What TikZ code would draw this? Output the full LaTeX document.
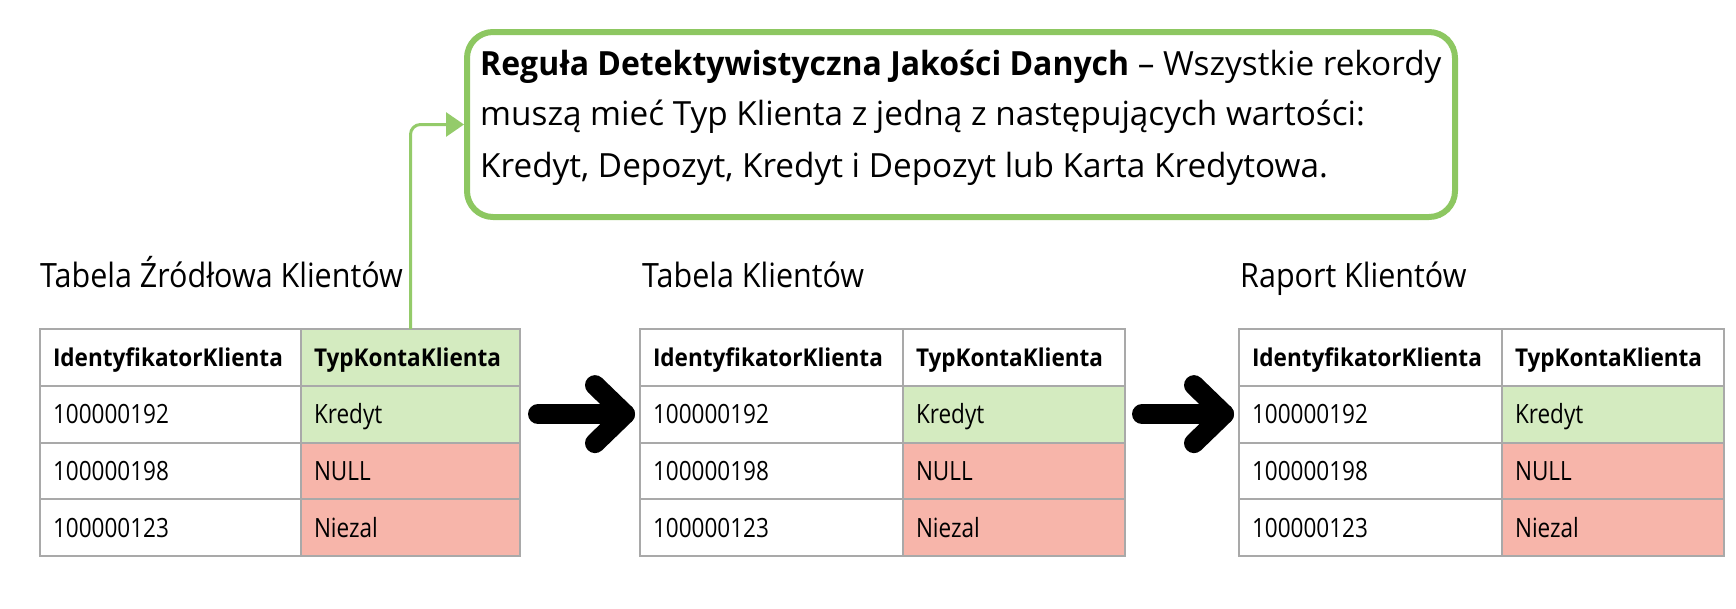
\documentclass[tikz,border=0pt]{standalone}
\usepackage{fontspec}
\setmainfont{Open Sans}
\newfontfamily\titlefont{Open Sans}[FakeStretch=0.91]
\newfontfamily\cellfont{Open Sans}[FakeStretch=0.85]
\newfontfamily\headfont{Open Sans}[FakeStretch=0.92]
\newfontfamily\rulebf{Open Sans}[FakeStretch=0.96]
\usetikzlibrary{arrows.meta,calc}
\definecolor{bordergray}{HTML}{A9A9A9}
\definecolor{cellgreen}{HTML}{D4EBC0}
\definecolor{cellred}{HTML}{F7B5AA}
\definecolor{rulegreen}{HTML}{8DC761}
\definecolor{linkgreen}{HTML}{94CB6A}
\tikzset{
  cell/.style={draw=bordergray, line width=2pt, inner xsep=13pt, inner ysep=0pt,
    outer sep=0pt, minimum height=56.75pt, anchor=north west, align=left,
    text height=19pt, text depth=0pt, font=\cellfont\fontsize{26.5}{30}\selectfont},
  headcell/.style={cell, text height=17.5pt, font=\headfont\fontsize{24.5}{28}\selectfont\bfseries},
  title/.style={anchor=base west, inner sep=0pt, font=\titlefont\fontsize{33.5}{40}\selectfont},
  ruleline/.style={anchor=base west, inner sep=0pt, font=\fontsize{33.3}{40}\selectfont},
  rulebox/.style={draw=rulegreen, line width=6pt, rounded corners=26pt, outer sep=0pt,
    anchor=north west, inner sep=0pt},
  link/.style={draw=linkgreen, line width=3pt, rounded corners=10pt,
    -{Triangle[length=18pt,width=24pt]}},
  bigarrow/.style={line width=20pt, line cap=round, line join=round, black}
}
\begin{document}
\begin{tikzpicture}[x=1pt,y=-1pt]
\useasboundingbox (0,0) rectangle (1736,608);

% rule box
\node[rulebox, minimum width=988pt, minimum height=185pt] (rule) at (467,32) {};
\node[ruleline] (rl1) at (480,75) {{\rulebf\bfseries Reguła Detektywistyczna Jakości Danych} – Wszystkie rekordy};
\node[ruleline] (rl2) at (480,125.5) {muszą mieć Typ Klienta z jedną z następujących wartości:};
\node[ruleline] (rl3) at (480,177.5) {Kredyt, Depozyt, Kredyt i Depozyt lub Karta Kredytowa.};

% titles
\node[title] (ti1) at (40,287) {Tabela Źródłowa Klientów};
\node[title] (ti2) at (642,287) {Tabela Klientów};
\node[title] (ti3) at (1240,287) {Raport Klientów};

% table 1
\node[headcell, text width=235pt] (A00) at (40,329) {IdentyfikatorKlienta};
\node[headcell, text width=193pt, fill=cellgreen] (A01) at (301,329) {TypKontaKlienta};
\node[cell, text width=235pt] (A10) at (40,385.75) {100000192};
\node[cell, text width=193pt, fill=cellgreen] (A11) at (301,385.75) {Kredyt};
\node[cell, text width=235pt] (A20) at (40,442.5) {100000198};
\node[cell, text width=193pt, fill=cellred] (A21) at (301,442.5) {NULL};
\node[cell, text width=235pt] (A30) at (40,499.25) {100000123};
\node[cell, text width=193pt, fill=cellred] (A31) at (301,499.25) {Niezal};

% table 2
\node[headcell, text width=237pt] (B00) at (640,329) {IdentyfikatorKlienta};
\node[headcell, text width=196pt] (B01) at (903,329) {TypKontaKlienta};
\node[cell, text width=237pt] (B10) at (640,385.75) {100000192};
\node[cell, text width=196pt, fill=cellgreen] (B11) at (903,385.75) {Kredyt};
\node[cell, text width=237pt] (B20) at (640,442.5) {100000198};
\node[cell, text width=196pt, fill=cellred] (B21) at (903,442.5) {NULL};
\node[cell, text width=237pt] (B30) at (640,499.25) {100000123};
\node[cell, text width=196pt, fill=cellred] (B31) at (903,499.25) {Niezal};

% table 3
\node[headcell, text width=237pt] (C00) at (1239,329) {IdentyfikatorKlienta};
\node[headcell, text width=196pt] (C01) at (1502,329) {TypKontaKlienta};
\node[cell, text width=237pt] (C10) at (1239,385.75) {100000192};
\node[cell, text width=196pt, fill=cellgreen] (C11) at (1502,385.75) {Kredyt};
\node[cell, text width=237pt] (C20) at (1239,442.5) {100000198};
\node[cell, text width=196pt, fill=cellred] (C21) at (1502,442.5) {NULL};
\node[cell, text width=237pt] (C30) at (1239,499.25) {100000123};
\node[cell, text width=196pt, fill=cellred] (C31) at (1502,499.25) {Niezal};

% green link
\draw[link] (A01.north) |- ([xshift=-3pt]rule.west);

% big arrows
\coordinate (a1s) at ($(A11.east)+(18,0)$);
\coordinate (a1t) at ($(B10.west)+(-15,0)$);
\draw[bigarrow] (a1s) -- (a1t);
\draw[bigarrow] ($(a1t)+(-30,-29)$) -- (a1t) -- ($(a1t)+(-30,29)$);
\coordinate (a2s) at ($(B11.east)+(17,0)$);
\coordinate (a2t) at ($(C10.west)+(-15,0)$);
\draw[bigarrow] (a2s) -- (a2t);
\draw[bigarrow] ($(a2t)+(-30,-29)$) -- (a2t) -- ($(a2t)+(-30,29)$);
\end{tikzpicture}
\end{document}
